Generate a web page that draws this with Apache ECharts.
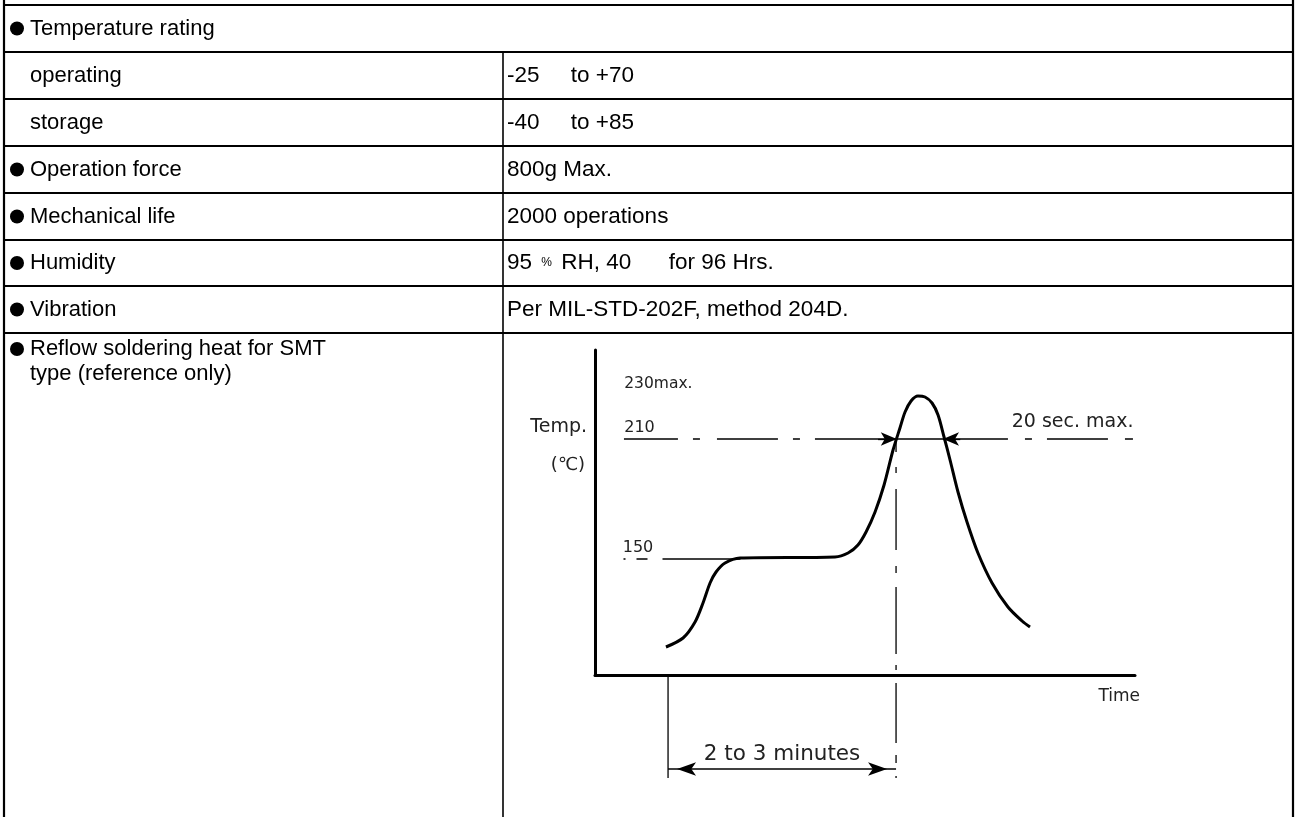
<!DOCTYPE html>
<html><head><meta charset="utf-8">
<script src="https://cdn.jsdelivr.net/npm/echarts@6/dist/echarts.min.js"></script>
<style>html,body{margin:0;padding:0;background:#fff}#c{width:1297px;height:817px}</style>
</head><body><div id="c"></div>
<script>
// ---------- table content ----------
const rowLabels = ['Temperature rating', 'operating', 'storage', 'Operation force', 'Mechanical life', 'Humidity', 'Vibration', 'Reflow soldering heat for SMT\ntype (reference only)'];
const rowBullets = [true, false, false, true, true, true, true, true];
const rowValues = ['', '-25     to +70', '-40     to +85', '800g Max.', '2000 operations', '95 {s|%} RH, 40      for 96 Hrs.', 'Per MIL-STD-202F, method 204D.', ''];

// ---------- reflow profile (time in s, temperature in °C) ----------
const profileTime = [47.3, 58.7, 66.7, 72, 76.7, 80.7, 86.7, 96.7, 160, 168.7, 175.3, 180.7, 186.7, 192.7, 198.7, 203.3, 206.7, 210.7, 215.3, 220, 224.7, 228.7, 232.7, 236.7, 242, 248, 255.3, 264.7, 275.3, 284.7, 290];
const profileTemp = [106, 110.5, 118.5, 128, 138, 143.5, 148, 150.5, 151, 153, 157, 163.5, 173.5, 187, 204.5, 215.5, 223.5, 229, 231.5, 231, 228, 222, 211, 199.5, 183.5, 168.5, 153, 138, 126, 119, 116];
const preheatTemp = 150;
const reflowTemp = 210;
const peakLabel = '230max.';
const preheatStart = 48.7;   // start of the 2-3 minute span
const reflowStart = 200.7;   // profile crosses 210 going up
const reflowEnd = 232.5;     // profile crosses 210 going down
const spanLabel = '2 to 3 minutes';
const dwellLabel = '20 sec. max.';

const chart = echarts.init(document.getElementById('c'), null, {renderer: 'canvas'});
const FONT = '"Liberation Sans", Arial, sans-serif';
const CFONT = '"DejaVu Sans", sans-serif';

// ---------- table frame ----------
const rowLines = [5, 52, 99, 146, 193, 240, 286, 333];
const L = 4, R = 1293, COL = 503, BOTTOM = 817;
const tableG = [];
function line(x1, y1, x2, y2, w) {
  tableG.push({type: 'line', silent: true, shape: {x1, y1, x2, y2}, style: {stroke: '#000', lineWidth: w}});
}
line(L, 0, L, BOTTOM, 2.2);
line(R, 0, R, BOTTOM, 2.2);
rowLines.forEach(y => line(L, y, R, y, 2.2));
line(COL, rowLines[1], COL, BOTTOM, 1.6);

rowLabels.forEach((t, i) => {
  const top = rowLines[i];
  const bottom = i + 1 < rowLines.length ? rowLines[i + 1] : null;
  const cy = bottom ? (top + bottom) / 2 : top + 16;
  if (rowBullets[i]) {
    tableG.push({type: 'circle', silent: true, shape: {cx: 17, cy: cy, r: 7}, style: {fill: '#000'}});
  }
  tableG.push({type: 'text', silent: true, x: 30, y: bottom ? cy : 336, style: {
    text: t, font: '22px ' + FONT, fill: '#000', align: 'left', verticalAlign: bottom ? 'middle' : 'top',
    lineHeight: 25
  }});
  if (bottom && rowValues[i]) {
    tableG.push({type: 'text', silent: true, x: 507, y: cy, style: {
      text: rowValues[i], fontFamily: FONT, fontSize: 22.5, fill: '#000', align: 'left', verticalAlign: 'middle',
      rich: {s: {fontFamily: FONT, fontSize: 12, fill: '#000', verticalAlign: 'middle', padding: [0, 3, 0, 3]}}
    }});
  }
});

const option = {
  animation: false,
  backgroundColor: '#fff',
  grid: {left: 595, top: 350, width: 540, height: 325, containLabel: false},
  xAxis: {type: 'value', min: 0, max: 360, axisLine: {lineStyle: {color: '#000', width: 3}}, axisTick: {show: false}, axisLabel: {show: false}, splitLine: {show: false}},
  yAxis: {type: 'value', min: 92, max: 254.5, axisLine: {show: true, lineStyle: {color: '#000', width: 3}}, axisTick: {show: false}, axisLabel: {show: false}, splitLine: {show: false}},
  series: [
    {name: 'profile', type: 'line', silent: true, smooth: 0.3, symbol: 'none',
     data: profileTime.map((t, i) => [t, profileTemp[i]]), lineStyle: {color: '#000', width: 3}},
    {name: 'pre150dash', type: 'line', silent: true, symbol: 'none', clip: false,
     data: [[19, preheatTemp], [45, preheatTemp]], lineStyle: {color: '#000', width: 1.3, type: [2, 11, 11, 15]}},
    {name: 'pre150', type: 'line', silent: true, symbol: 'none',
     data: [[45, preheatTemp], [97, preheatTemp]], lineStyle: {color: '#000', width: 1.3}},
    {name: 'ref210', type: 'line', silent: true, symbol: 'none',
     data: [[19.3, reflowTemp], [358.7, reflowTemp]],
     lineStyle: {color: '#000', width: 1.3, type: [54, 15, 7, 17, 61, 15, 7, 15, 193, 17, 7, 15, 61, 17, 8]}},
    {name: 'vert', type: 'line', silent: true, symbol: 'none', clip: false,
     data: [[reflowStart, reflowTemp], [reflowStart, 40.5]],
     lineStyle: {color: '#000', width: 1.3, type: [13, 15, 6, 16, 61, 16, 7, 14, 67, 11, 5, 13, 60, 12, 8]}},
    {name: 'leftVert', type: 'line', silent: true, symbol: 'none', clip: false,
     data: [[preheatStart, 92], [preheatStart, 40.5]], lineStyle: {color: '#000', width: 1.3},
     markLine: {silent: true, animation: false, symbol: ['none', 'arrow'], symbolSize: [10, 16],
       label: {show: false}, emphasis: {disabled: true},
       lineStyle: {color: '#000', width: 1.3, type: 'solid'},
       itemStyle: {color: '#000'},
       data: [
         [{coord: [reflowStart - 12, reflowTemp]}, {coord: [reflowStart + 0.5, reflowTemp]}],
         [{coord: [reflowEnd + 11, reflowTemp]}, {coord: [reflowEnd - 0.5, reflowTemp]}]
       ]}},
    {name: 'span', type: 'line', silent: true, clip: false, symbol: 'arrow', showSymbol: true, symbolSize: [10, 19],
     itemStyle: {color: '#000'}, lineStyle: {color: '#000', width: 1.3},
     data: [
       {value: [preheatStart, 45], symbolRotate: 90, symbolOffset: [9, 0]},
       {value: [reflowStart, 45], symbolRotate: -90, symbolOffset: [-9, 0]}
     ]}
  ],
  graphic: tableG
};
chart.setOption(option);

// ---------- chart annotations positioned through the axes ----------
const px = (x, y) => chart.convertToPixel({gridIndex: 0}, [x, y]);
const labG = [];
function lab(text, p, align, va, size) {
  labG.push({type: 'text', silent: true, x: p[0], y: p[1], style: {text, font: size + 'px ' + CFONT, fill: '#222', align, verticalAlign: va}});
}
lab(peakLabel, px(19.5, 237.5), 'left', 'middle', 15.5);
lab(String(reflowTemp), px(19.5, 211.5), 'left', 'bottom', 16);
lab(String(preheatTemp), px(18.5, 151.5), 'left', 'bottom', 16);
lab(dwellLabel, px(359, 213.5), 'right', 'bottom', 19);
lab(spanLabel, px((preheatStart + reflowStart) / 2, 47), 'center', 'bottom', 21.5);
const o = px(0, 92), e = px(360, 92);
lab('Time', [e[0] + 5, o[1] + 22], 'right', 'middle', 17);
lab('Temp.', [o[0] - 8, px(0, 216)[1]], 'right', 'middle', 19);
lab('(℃)', [o[0] - 27, px(0, 197)[1]], 'center', 'middle', 18);
chart.setOption({graphic: tableG.concat(labG)});
</script></body></html>
